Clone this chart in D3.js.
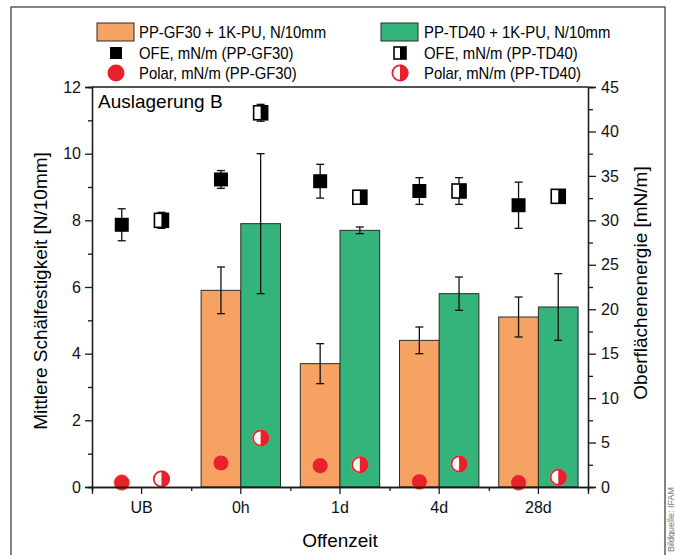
<!DOCTYPE html>
<html>
<head>
<meta charset="utf-8">
<script src="https://cdn.jsdelivr.net/npm/d3@7"></script>
<style>
  body { margin: 0; background: #fff; }
  svg { font-family: Arial, "Liberation Sans", sans-serif; }
  .axis path, .axis line { stroke: #1a1a1a; stroke-width: 1.3; }
  .axis text { font-size: 16px; fill: #111; }
</style>
</head>
<body>
<div id="chart"></div>
<script>
// data
const categories = ['UB', '0h', '1d', '4d', '28d'];
const gf30Peel = [null, 5.9, 3.7, 4.4, 5.1];
const gf30PeelErr = [null, 0.7, 0.6, 0.4, 0.6];
const td40Peel = [null, 7.9, 7.7, 5.8, 5.4];
const td40PeelErr = [null, 2.1, 0.1, 0.5, 1.0];
const gf30Ofe = [29.5, 34.6, 34.4, 33.3, 31.7];
const gf30OfeErr = [1.8, 1.0, 1.9, 1.5, 2.6];
const td40Ofe = [30.0, 42.1, 32.6, 33.3, 32.7];
const td40OfeErr = [0.9, 0.95, 0.3, 1.5, 0.3];
const gf30Polar = [0.5, 2.7, 2.4, 0.6, 0.5];
const gf30PolarErr = [0, 0, 0.8, 0, 0];
const td40Polar = [0.9, 5.5, 2.5, 2.6, 1.1];
const leftTicks = [0, 2, 4, 6, 8, 10, 12];
const rightTicks = [0, 5, 10, 15, 20, 25, 30, 35, 40, 45];

const colOrange = '#f5a263';
const colGreen = '#34b47a';
const colRed = '#e8212b';

const width = 675, height = 555;
const margin = { top: 87, right: 87, bottom: 68, left: 92 };
const innerW = width - margin.left - margin.right;
const innerH = height - margin.top - margin.bottom;

let svg = d3.select('#chart').append('svg')
    .attr('width', width)
    .attr('height', height);

// outer frame
svg.append('rect')
    .attr('x', 11).attr('y', 7)
    .attr('width', 654).attr('height', 560)
    .attr('fill', 'none')
    .attr('stroke', '#333')
    .attr('stroke-width', 1.2);

let g = svg.append('g')
    .attr('transform', `translate(${margin.left},${margin.top})`);

// scales
let x = d3.scaleBand().domain(categories).range([0, innerW]);
let xSub = d3.scaleBand().domain(['gf30', 'td40'])
    .range([0, x.bandwidth()]).paddingOuter(0.25);
let xEdges = d3.scaleLinear().domain([0, categories.length]).range([0, innerW]);
let yL = d3.scaleLinear().domain([0, 12]).range([innerH, 0]);
let yR = d3.scaleLinear().domain([0, 45]).range([innerH, 0]);

const cx = (i, s) => x(categories[i]) + xSub(s) + xSub.bandwidth() / 2;

// bars
const barSeries = [
    { key: 'gf30', vals: gf30Peel, errs: gf30PeelErr, color: colOrange },
    { key: 'td40', vals: td40Peel, errs: td40PeelErr, color: colGreen }
];
barSeries.forEach(s => {
    let rows = s.vals.map((v, i) => ({ i, v, e: s.errs[i] })).filter(d => d.v != null);
    g.selectAll('.bar-' + s.key)
        .data(rows)
        .enter().append('rect')
        .attr('class', 'bar-' + s.key)
        .attr('x', d => x(categories[d.i]) + xSub(s.key))
        .attr('width', xSub.bandwidth())
        .attr('y', d => yL(d.v))
        .attr('height', d => yL(0) - yL(d.v))
        .attr('fill', s.color)
        .attr('stroke', '#2a2a2a')
        .attr('stroke-width', 1);
});

// error bars helper
function errorBars(rows, yScale, capW) {
    let eg = g.append('g').attr('stroke', '#111').attr('stroke-width', 1.3);
    rows.forEach(d => {
        if (!d.e) return;
        let y1 = yScale(d.v + d.e), y2 = yScale(d.v - d.e);
        eg.append('line').attr('x1', d.x).attr('x2', d.x).attr('y1', y1).attr('y2', y2);
        eg.append('line').attr('x1', d.x - capW / 2).attr('x2', d.x + capW / 2).attr('y1', y1).attr('y2', y1);
        eg.append('line').attr('x1', d.x - capW / 2).attr('x2', d.x + capW / 2).attr('y1', y2).attr('y2', y2);
    });
}
barSeries.forEach(s => {
    errorBars(s.vals.map((v, i) => ({ x: cx(i, s.key), v, e: s.errs[i] })).filter(d => d.v != null), yL, 8);
});

// OFE squares
errorBars(gf30Ofe.map((v, i) => ({ x: cx(i, 'gf30'), v, e: gf30OfeErr[i] })), yR, 8);
errorBars(td40Ofe.map((v, i) => ({ x: cx(i, 'td40'), v, e: td40OfeErr[i] })), yR, 8);

const sq = 14;
function halfSquare(sel, px, py, size) {
    sel.append('rect').attr('x', px - size / 2).attr('y', py - size / 2)
        .attr('width', size).attr('height', size).attr('fill', '#fff');
    sel.append('rect').attr('x', px).attr('y', py - size / 2)
        .attr('width', size / 2).attr('height', size).attr('fill', '#000');
    sel.append('rect').attr('x', px - size / 2).attr('y', py - size / 2)
        .attr('width', size).attr('height', size)
        .attr('fill', 'none').attr('stroke', '#000').attr('stroke-width', 1.6);
}
function halfCircle(sel, px, py, r) {
    sel.append('circle').attr('cx', px).attr('cy', py).attr('r', r).attr('fill', '#fff');
    sel.append('path')
        .attr('d', `M${px},${py - r} A${r},${r} 0 0 1 ${px},${py + r} Z`)
        .attr('fill', colRed);
    sel.append('circle').attr('cx', px).attr('cy', py).attr('r', r - 0.9)
        .attr('fill', 'none').attr('stroke', colRed).attr('stroke-width', 1.8);
}

g.selectAll('.ofe-gf30')
    .data(gf30Ofe)
    .enter().append('rect')
    .attr('class', 'ofe-gf30')
    .attr('x', (d, i) => cx(i, 'gf30') - sq / 2)
    .attr('y', d => yR(d) - sq / 2)
    .attr('width', sq).attr('height', sq)
    .attr('fill', '#000');
let ofeTd = g.append('g');
td40Ofe.forEach((v, i) => halfSquare(ofeTd, cx(i, 'td40'), yR(v), sq));

// polar circles
errorBars(gf30Polar.map((v, i) => ({ x: cx(i, 'gf30'), v, e: gf30PolarErr[i] })), yR, 6);
g.selectAll('.polar-gf30')
    .data(gf30Polar)
    .enter().append('circle')
    .attr('class', 'polar-gf30')
    .attr('cx', (d, i) => cx(i, 'gf30'))
    .attr('cy', d => yR(d))
    .attr('r', 8)
    .attr('fill', colRed)
    .attr('stroke', 'rgba(255,190,140,0.7)')
    .attr('stroke-width', 1);
let polTd = g.append('g');
td40Polar.forEach((v, i) => halfCircle(polTd, cx(i, 'td40'), yR(v), 8.5));

// axes
g.append('line')
    .attr('x1', 0).attr('x2', innerW).attr('y1', 0).attr('y2', 0)
    .attr('stroke', '#1a1a1a').attr('stroke-width', 1.3);

g.append('g').attr('class', 'axis')
    .call(d3.axisLeft(yL).tickValues(d3.range(1, 12, 2)).tickSize(4).tickFormat(''));
g.append('g').attr('class', 'axis')
    .call(d3.axisLeft(yL).tickValues(leftTicks).tickSize(7).tickPadding(4).tickFormat(d3.format('d')));

g.append('g').attr('class', 'axis')
    .attr('transform', `translate(${innerW},0)`)
    .call(d3.axisRight(yR).tickValues(d3.range(2.5, 45, 5)).tickSize(5).tickFormat(''));
g.append('g').attr('class', 'axis')
    .attr('transform', `translate(${innerW},0)`)
    .call(d3.axisRight(yR).tickValues(rightTicks).tickSize(8).tickPadding(5).tickFormat(d3.format('d')));

g.append('g').attr('class', 'axis')
    .attr('transform', `translate(0,${innerH})`)
    .call(d3.axisBottom(xEdges).tickValues(d3.range(0, categories.length + 1)).tickSize(4).tickFormat(''));
g.append('g').attr('class', 'axis')
    .attr('transform', `translate(0,${innerH})`)
    .call(d3.axisBottom(x).tickSize(7).tickPadding(8));

g.selectAll('.axis .domain').attr('stroke-width', 1.4);

// axis titles
svg.append('text')
    .attr('transform', `translate(47,${margin.top + innerH / 2 + 4}) rotate(-90)`)
    .attr('text-anchor', 'middle')
    .style('font-size', '19px')
    .text('Mittlere Schälfestigkeit [N/10mm]');
svg.append('text')
    .attr('transform', `translate(647,${margin.top + innerH / 2 - 4}) rotate(-90)`)
    .attr('text-anchor', 'middle')
    .style('font-size', '19px')
    .text('Oberflächenenergie [mN/m]');
svg.append('text')
    .attr('x', margin.left + innerW / 2)
    .attr('y', 547)
    .attr('text-anchor', 'middle')
    .style('font-size', '19px')
    .text('Offenzeit');
svg.append('text')
    .attr('x', 98).attr('y', 108)
    .style('font-size', '19px')
    .text('Auslagerung B');

// image credit at the edge
svg.append('text')
    .attr('transform', 'translate(674,552) rotate(-90)')
    .style('font-size', '9px')
    .attr('fill', '#777')
    .text('Bildquelle: IFAM');

// legend
let legend = svg.append('g').style('font-size', '16px');
const legRows = [32, 53, 73];
const legCols = [116, 400];
legend.append('rect').attr('x', 97).attr('y', 23).attr('width', 37).attr('height', 18)
    .attr('fill', colOrange).attr('stroke', '#2a2a2a');
legend.append('rect').attr('x', 381).attr('y', 23).attr('width', 37).attr('height', 18)
    .attr('fill', colGreen).attr('stroke', '#2a2a2a');
legend.append('rect').attr('x', legCols[0] - 6).attr('y', legRows[1] - 6)
    .attr('width', 12).attr('height', 12).attr('fill', '#000');
halfSquare(legend, legCols[1], legRows[1], 12);
legend.append('circle').attr('cx', legCols[0]).attr('cy', legRows[2]).attr('r', 8.5).attr('fill', colRed);
halfCircle(legend, legCols[1], legRows[2], 8.5);

const legTexts = [
    ['PP-GF30 + 1K-PU, N/10mm', 'PP-TD40 + 1K-PU, N/10mm'],
    ['OFE, mN/m (PP-GF30)', 'OFE, mN/m (PP-TD40)'],
    ['Polar, mN/m (PP-GF30)', 'Polar, mN/m (PP-TD40)']
];
legTexts.forEach((row, r) => {
    row.forEach((t, c) => {
        legend.append('text')
            .attr('transform', `translate(${c === 0 ? 139 : 424},${legRows[r]}) scale(0.93,1)`)
            .attr('dy', '0.36em')
            .text(t);
    });
});
</script>
</body>
</html>
